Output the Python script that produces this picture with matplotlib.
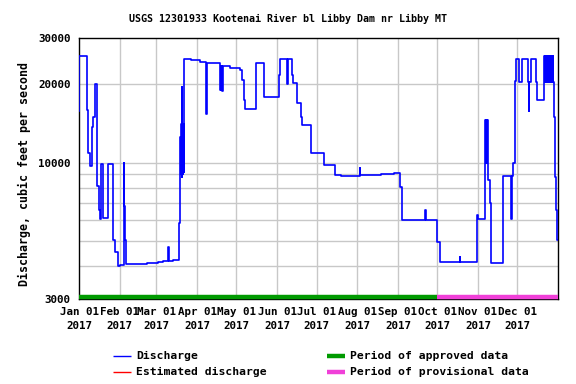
import numpy as np
import pandas as pd
import matplotlib
matplotlib.use('Agg')
import matplotlib.pyplot as plt
from matplotlib.lines import Line2D

# Discharge, Kootenai River below Libby Dam, 2017 (step breakpoints)
# (days since Jan 01 2017, cubic feet per second)
flow_steps = [
    (0.0, 15800), (0.3, 25500), (5.8, 21300), (6.3, 15900), (6.6, 10900), (8.4, 9700),
    (10.0, 13700), (11.0, 15000), (12.0, 20000), (13.5, 15000), (14.0, 8100), (15.0, 6550),
    (16.0, 6100), (16.6, 9900), (18.0, 7300), (18.5, 6150), (22.3, 9900), (26.0, 5030),
    (27.4, 4550), (29.5, 4000), (31.0, 4050), (34.3, 10000), (34.6, 6800), (35.2, 5030),
    (36.0, 4100), (45.0, 4080), (52.0, 4120), (60.0, 4150), (64.0, 4200), (68.0, 4750),
    (68.3, 4200), (72.0, 4220), (76.2, 5880), (77.2, 12500), (77.6, 9000), (77.9, 14000),
    (78.2, 8800), (78.5, 19500), (78.7, 13500), (79.0, 9000), (79.3, 14000), (79.7, 9200),
    (80.3, 25000), (85.0, 24800), (92.0, 24300), (97.0, 15400), (97.3, 24000),
    (107.6, 18900), (107.9, 23500), (108.5, 19000), (108.8, 23500), (109.3, 18800),
    (109.6, 23400), (115.0, 23000), (122.7, 22600), (124.4, 20800), (125.7, 17300),
    (126.5, 16100), (135.1, 24000), (141.2, 17800), (152.2, 21700), (152.8, 25000),
    (158.6, 20000), (158.9, 25000), (162.6, 21700), (163.0, 20200), (166.4, 16900),
    (169.2, 15000), (170.0, 13900), (176.8, 10900), (187.0, 9760), (195.0, 8930),
    (200.0, 8850), (210.0, 8900), (214.0, 9500), (214.3, 8950), (220.0, 8950),
    (230.0, 9050), (240.0, 9100), (244.6, 8080), (246.4, 6010), (264.0, 6600),
    (264.3, 6010), (273.0, 4950), (275.0, 4160), (290.3, 4350), (290.6, 4160),
    (303.5, 6300), (304.0, 6070), (309.6, 14500), (310.0, 10000), (310.4, 14500),
    (310.8, 10000), (311.2, 14500), (311.9, 8600), (313.2, 7000), (314.0, 4110),
    (323.4, 8900), (329.5, 6100), (329.8, 8900), (331.0, 9950), (332.0, 20500),
    (332.8, 25000), (335.6, 20300), (337.8, 25000), (342.4, 20300), (342.7, 15700),
    (343.0, 20300), (344.4, 25000), (348.5, 20300), (349.3, 17300), (354.6, 25500),
    (355.0, 20300), (355.4, 25500), (355.8, 20300), (356.2, 25500), (356.6, 20300),
    (357.0, 25500), (357.4, 20300), (357.8, 25500), (358.2, 20300), (358.6, 25500),
    (359.0, 20300), (359.4, 25500), (359.8, 20300), (360.2, 25500), (360.6, 20300),
    (361.0, 25500), (361.4, 20300), (362.0, 15000), (362.7, 8800), (363.5, 6550),
    (364.5, 5030), (365.0, 5030),
]
flow_day = [d for d, _ in flow_steps]
flow_cfs = [v for _, v in flow_steps]

# Data-status periods (days since Jan 01)
approved_span = [0, 273]
provisional_span = [273, 365]

month_starts = pd.date_range('2017-01-01', '2017-12-01', freq='MS')
month_days = [(d - pd.Timestamp('2017-01-01')).days for d in month_starts]
month_labels = [d.strftime('%b %d\n%Y') for d in month_starts]

FONT = 'DejaVu Sans Mono'
plt.rcParams['font.family'] = FONT
plt.rcParams['font.weight'] = 'bold'

fig = plt.figure(figsize=(5.76, 3.84), dpi=100)
ax = fig.add_axes([79 / 576, 1 - 299 / 384, 479 / 576, 261 / 384])

ax.set_yscale('log')
ax.set_ylim(3000, 30000)
ax.set_xlim(0, 365)

ax.plot(flow_day, flow_cfs, drawstyle='steps-post', color='#0000ff', lw=1.2, zorder=3)

# approved / provisional bars along the bottom
ax.plot(approved_span, [3050, 3050], color='#009a00', lw=3.2, solid_capstyle='butt',
        clip_on=False, zorder=4)
ax.plot(provisional_span, [3050, 3050], color='#f040d8', lw=3.2, solid_capstyle='butt',
        clip_on=False, zorder=4)

# grid
for v in [4000, 5000, 6000, 7000, 8000, 9000, 10000, 20000]:
    ax.axhline(v, color='#c8c8c8', lw=1.0, zorder=1)
for d in month_days[1:]:
    ax.axvline(d, color='#c8c8c8', lw=1.0, zorder=1)

ax.set_yticks([3000, 10000, 20000, 30000])
ax.set_yticklabels(['3000', '10000', '20000', '30000'], fontsize=7.8, fontweight='bold')
ax.yaxis.set_minor_locator(matplotlib.ticker.NullLocator())
ax.set_xticks(month_days)
ax.set_xticklabels(month_labels, fontsize=7.8, fontweight='bold', linespacing=1.4)
ax.tick_params(length=0, pad=6)
for s in ax.spines.values():
    s.set_linewidth(1.0)
    s.set_color('black')

fig.text(24 / 576, 1 - 174 / 384, 'Discharge, cubic feet per second', rotation=90,
         ha='center', va='center', fontsize=8.4, fontweight='bold')
fig.text(0.5, 1 - 19 / 384, 'USGS 12301933 Kootenai River bl Libby Dam nr Libby MT',
         ha='center', va='center', fontsize=7.2, fontweight='bold')

# legend drawn by hand in pixel coordinates
def fx(px):
    return px / 576

def fy(py):
    return 1 - py / 384

legend_items = [
    (113, 356, '#0000ff', 1.0, 'Discharge'),
    (113, 372, '#ff0000', 1.0, 'Estimated discharge'),
    (327, 356, '#009a00', 3.2, 'Period of approved data'),
    (327, 372, '#f040d8', 3.2, 'Period of provisional data'),
]
for x0, y0, col, lw, label in legend_items:
    fig.add_artist(Line2D([fx(x0), fx(x0 + 18)], [fy(y0), fy(y0)], color=col, lw=lw,
                          solid_capstyle='butt'))
    fig.text(fx(x0 + 23), fy(y0), label, ha='left', va='center', fontsize=8.2,
             fontweight='bold')

fig.savefig('out.png', dpi=100, facecolor='white')
plt.close(fig)
